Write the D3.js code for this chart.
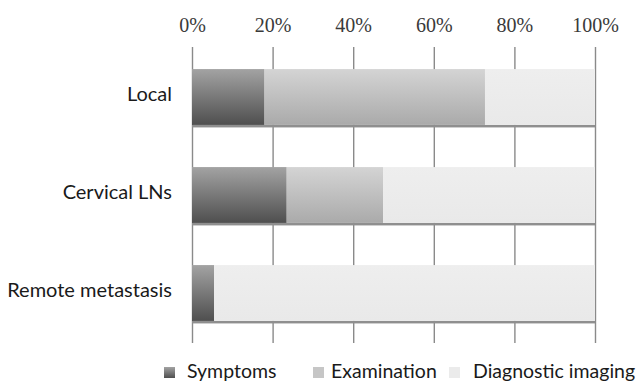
<!DOCTYPE html>
<html>
<head>
<meta charset="utf-8">
<script src="https://cdn.jsdelivr.net/npm/d3@7"></script>
<style>
  html, body { margin: 0; padding: 0; background: #fff; }
  svg { display: block; }
</style>
</head>
<body>
<svg id="chart" width="636" height="383"></svg>
<script>
// Share of cases by mode of detection, per recurrence site (percent)
const categories = ["Local", "Cervical LNs", "Remote metastasis"];
const seriesNames = ["Symptoms", "Examination", "Diagnostic imaging"];
const symptoms = [18, 23.5, 5.5];
const examination = [54.7, 23.9, 0];
const diagnosticImaging = [27.3, 52.6, 94.5];
const tickValues = [0, 20, 40, 60, 80, 100];
const tickLabels = ["0%", "20%", "40%", "60%", "80%", "100%"];

const seriesValues = [symptoms, examination, diagnosticImaging];
const rows = categories.map((c, i) => {
  const r = { category: c };
  seriesNames.forEach((s, k) => { r[s] = seriesValues[k][i]; });
  return r;
});

const svg = d3.select("#chart");
const margin = { left: 192, right: 41, top: 48, bottom: 41 };
const W = 636, H = 383;

const x = d3.scaleLinear().domain([0, 100]).range([margin.left, W - margin.right]);
const y = d3.scaleBand().domain(categories)
  .range([margin.top, H - margin.bottom])
  .paddingInner(0.43).paddingOuter(0.215);

// Gradients for the bar fills
const defs = svg.append("defs");
const fills = [
  { id: "g0", top: "#a3a3a3", bottom: "#4f4f4f" },
  { id: "g1", top: "#d4d4d4", bottom: "#aaaaaa" },
  { id: "g2", top: "#eeeeee", bottom: "#e9e9e9" }
];
fills.forEach(f => {
  const g = defs.append("linearGradient").attr("id", f.id)
    .attr("x1", 0).attr("y1", 0).attr("x2", 0).attr("y2", 1);
  g.append("stop").attr("offset", "0%").attr("stop-color", f.top);
  g.append("stop").attr("offset", "100%").attr("stop-color", f.bottom);
});
const color = d3.scaleOrdinal().domain(seriesNames).range(fills.map(f => `url(#${f.id})`));

// Vertical gridlines, drawn as a top axis with full-height ticks
const gridAxis = d3.axisTop(x).tickValues(tickValues)
  .tickSize(-(H - margin.bottom - margin.top + 2))
  .tickFormat((d, i) => tickLabels[i]);
const gAxis = svg.append("g")
  .attr("transform", `translate(0,${margin.top - 1})`)
  .call(gridAxis);
gAxis.select(".domain").remove();
gAxis.selectAll(".tick line").attr("stroke", "#8a8a8a").attr("stroke-width", 1.4);
gAxis.selectAll(".tick text")
  .attr("y", -15)
  .attr("fill", "#3a3a3a")
  .style("font-family", "'Liberation Serif', 'DejaVu Serif', serif")
  .style("font-size", "20px");

// Stacked bars
const stack = d3.stack().keys(seriesNames);
const layers = stack(rows);

// Shadow line under each bar
svg.append("g").selectAll("rect")
  .data(rows)
  .join("rect")
  .attr("x", x(0))
  .attr("y", d => y(d.category) + y.bandwidth())
  .attr("width", x(100) - x(0))
  .attr("height", 2.5)
  .attr("fill", "#8f8f8f");

svg.append("g").selectAll("g")
  .data(layers)
  .join("g")
  .attr("fill", d => color(d.key))
  .selectAll("rect")
  .data(d => d)
  .join("rect")
  .attr("x", d => x(d[0]))
  .attr("y", d => y(d.data.category))
  .attr("width", d => x(d[1]) - x(d[0]))
  .attr("height", y.bandwidth());

// Category labels
const labelFont = "Lato, 'Open Sans', sans-serif";
const yAxis = d3.axisLeft(y).tickSize(0).tickPadding(20);
const gy = svg.append("g").attr("transform", `translate(${margin.left},0)`).call(yAxis);
gy.select(".domain").remove();
gy.selectAll(".tick text")
  .attr("fill", "#1a1a1a")
  .attr("dy", "0.2em")
  .style("font-family", labelFont)
  .style("font-size", "20px");

// Legend
const legendX = [164, 313, 449];
const legendY = 372;
const legendFills = ["url(#g0)", "#c6c6c6", "#ebebeb"];
const legend = svg.append("g").selectAll("g")
  .data(seriesNames)
  .join("g")
  .attr("transform", (d, i) => `translate(${legendX[i]},${legendY})`);
legend.append("rect")
  .attr("x", 0).attr("y", -5)
  .attr("width", 11).attr("height", 11)
  .attr("fill", (d, i) => legendFills[i]);
legend.append("text")
  .attr("x", (d, i) => [23, 18, 24][i])
  .attr("y", 6)
  .attr("fill", "#1a1a1a")
  .style("font-family", labelFont)
  .style("font-size", "19.5px")
  .text(d => d);
</script>
</body>
</html>
